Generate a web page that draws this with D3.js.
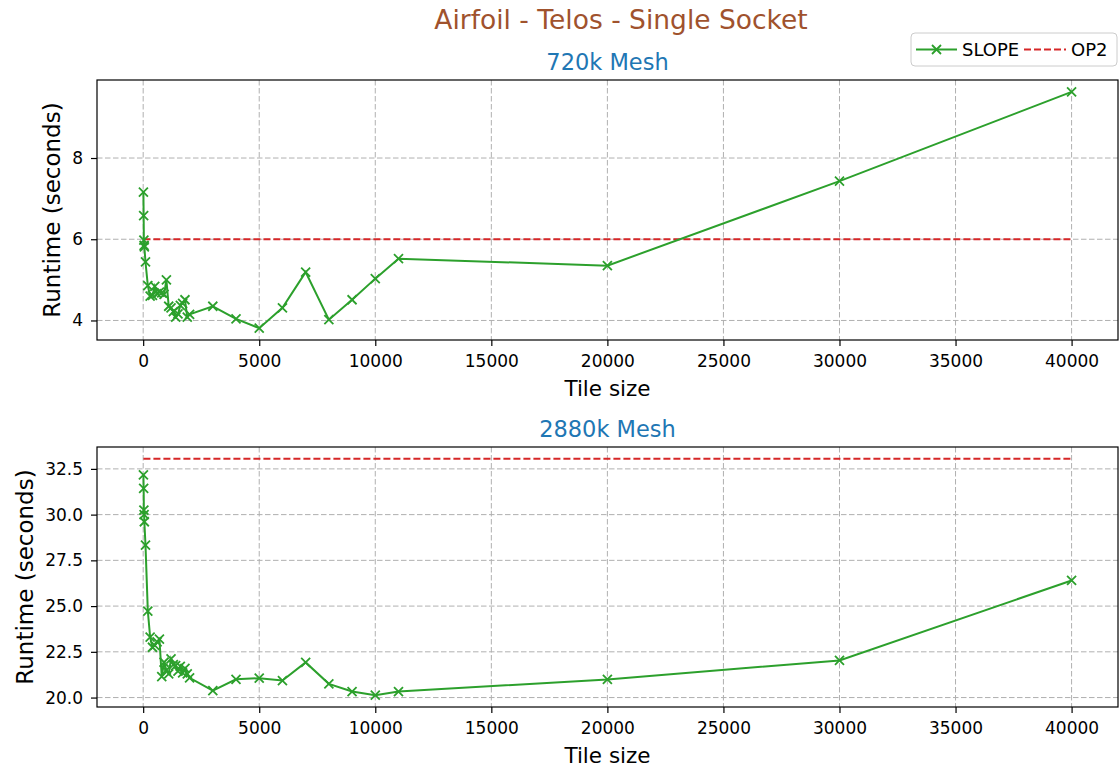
<!DOCTYPE html>
<html>
<head>
<meta charset="utf-8">
<script src="https://cdn.jsdelivr.net/npm/d3@7"></script>
<style>
body { margin: 0; background: #fff; }
svg { font-family: "DejaVu Sans", sans-serif; }
</style>
</head>
<body>
<div id="chart"></div>
<script>
// 1: DATA
const tileSizes = [10, 20, 30, 40, 50, 100, 200, 300, 400, 500, 600, 700, 800, 900, 1000,
    1100, 1200, 1300, 1400, 1500, 1600, 1700, 1800, 1900, 2000, 3000, 4000, 5000, 6000,
    7000, 8000, 9000, 10000, 11000, 20000, 30000, 40000];

const slope720k = [7.16, 6.58, 5.98, 5.85, 5.81, 5.44, 4.86, 4.60, 4.62, 4.84, 4.66, 4.70,
    4.68, 4.64, 5.00, 4.35, 4.31, 4.22, 4.08, 4.16, 4.37, 4.42, 4.51, 4.08, 4.15, 4.35,
    4.04, 3.81, 4.31, 5.19, 4.02, 4.51, 5.03, 5.52, 5.35, 7.43, 9.63];

const slope2880k = [32.17, 31.44, 30.25, 30.00, 29.61, 28.33, 24.73, 23.30, 22.75, 22.85,
    23.05, 23.20, 21.15, 21.93, 21.50, 21.30, 22.12, 21.80, 21.75, 21.45, 21.70, 21.35,
    21.60, 21.30, 21.08, 20.38, 21.00, 21.06, 20.93, 21.92, 20.75, 20.33, 20.13, 20.33,
    20.99, 22.03, 26.40];

const op2_720k = 6.0;
const op2_2880k = 33.05;

const xTicks = [0, 5000, 10000, 15000, 20000, 25000, 30000, 35000, 40000];
const yTicks720k = [4, 6, 8];
const yTicks2880k = [20, 22.5, 25, 27.5, 30, 32.5];

const green = "#2ca02c";
const red = "#d62728";

// 2: SVG
const W = 1120, H = 771;
const svg = d3.select("#chart").append("svg")
    .attr("width", W)
    .attr("height", H);

svg.append("text")
    .attr("x", 621)
    .attr("y", 29)
    .attr("text-anchor", "middle")
    .attr("font-size", "26.5px")
    .attr("fill", "#a0522d")
    .text("Airfoil - Telos - Single Socket");

const left = 97, right = 1118, panelH = 260;

// pad a domain like matplotlib's 5% margins
function padded(lo, hi) {
    const m = (hi - lo) * 0.05;
    return [lo - m, hi + m];
}

function drawPanel(top, values, op2, title, yTicks, yFmt) {
    const g = svg.append("g").attr("transform", `translate(0,${top})`);
    const w = right - left;

    const xScale = d3.scaleLinear()
        .domain(padded(d3.min(tileSizes), d3.max(tileSizes)))
        .range([left, right]);
    const yExt = d3.extent(values.concat([op2]));
    const yScale = d3.scaleLinear()
        .domain(padded(yExt[0], yExt[1]))
        .range([panelH, 0]);

    // grid
    g.append("g").selectAll("line").data(xTicks).join("line")
        .attr("x1", d => xScale(d)).attr("x2", d => xScale(d))
        .attr("y1", 0).attr("y2", panelH)
        .attr("stroke", "#b0b0b0").attr("stroke-width", 1)
        .attr("stroke-dasharray", "5.5,2.5");
    g.append("g").selectAll("line").data(yTicks).join("line")
        .attr("x1", left).attr("x2", right)
        .attr("y1", d => yScale(d)).attr("y2", d => yScale(d))
        .attr("stroke", "#b0b0b0").attr("stroke-width", 1)
        .attr("stroke-dasharray", "5.5,2.5");

    // OP2 baseline
    g.append("line")
        .attr("x1", xScale(d3.min(tileSizes))).attr("x2", xScale(d3.max(tileSizes)))
        .attr("y1", yScale(op2)).attr("y2", yScale(op2))
        .attr("stroke", red).attr("stroke-width", 2)
        .attr("stroke-dasharray", "7,3");

    // SLOPE line
    const pts = tileSizes.map((t, i) => ({ t, v: values[i] }));
    const line = d3.line().x(d => xScale(d.t)).y(d => yScale(d.v));
    g.append("path")
        .datum(pts)
        .attr("fill", "none")
        .attr("stroke", green)
        .attr("stroke-width", 2)
        .attr("d", line);

    const s = 4.5;
    g.append("g").selectAll("path").data(pts).join("path")
        .attr("d", d => {
            const x = xScale(d.t), y = yScale(d.v);
            return `M${x - s},${y - s}L${x + s},${y + s}M${x - s},${y + s}L${x + s},${y - s}`;
        })
        .attr("stroke", green)
        .attr("stroke-width", 1.8)
        .attr("fill", "none");

    // axes
    const xAxis = g.append("g")
        .attr("transform", `translate(0,${panelH})`)
        .call(d3.axisBottom(xScale).tickValues(xTicks).tickSize(6).tickPadding(9).tickFormat(d3.format("d")));
    const yAxis = g.append("g")
        .attr("transform", `translate(${left},0)`)
        .call(d3.axisLeft(yScale).tickValues(yTicks).tickSize(6).tickPadding(8).tickFormat(yFmt));
    [xAxis, yAxis].forEach(a => {
        a.select(".domain").remove();
        a.selectAll("text").attr("font-size", "17px").attr("fill", "#000")
            .attr("font-family", "DejaVu Sans, sans-serif");
        a.selectAll("line").attr("stroke", "#000").attr("stroke-width", 1.2);
    });

    // frame
    g.append("rect")
        .attr("x", left).attr("y", 0)
        .attr("width", w).attr("height", panelH)
        .attr("fill", "none").attr("stroke", "#000").attr("stroke-width", 1.2);

    // titles and labels
    g.append("text")
        .attr("x", (left + right) / 2).attr("y", -10)
        .attr("text-anchor", "middle")
        .attr("font-size", "22.5px").attr("fill", "#1f77b4")
        .text(title);
    g.append("text")
        .attr("x", (left + right) / 2).attr("y", panelH + 56)
        .attr("text-anchor", "middle")
        .attr("font-size", "21.5px")
        .text("Tile size");

    // y label sits left of the widest tick label
    let minX = left;
    yAxis.selectAll("text").each(function () {
        const b = this.getBBox();
        minX = Math.min(minX, left + b.x);
    });
    g.append("text")
        .attr("transform", `translate(${minX - 12},${panelH / 2}) rotate(-90)`)
        .attr("text-anchor", "middle")
        .attr("font-size", "23px")
        .text("Runtime (seconds)");
}

drawPanel(80, slope720k, op2_720k, "720k Mesh", yTicks720k, d3.format("d"));
drawPanel(447, slope2880k, op2_2880k, "2880k Mesh", yTicks2880k, d3.format(".1f"));

// legend
const legend = svg.append("g").attr("transform", "translate(911,33)");
legend.append("rect")
    .attr("width", 206).attr("height", 33).attr("rx", 4)
    .attr("fill", "#fff").attr("fill-opacity", 0.8)
    .attr("stroke", "#cccccc").attr("stroke-width", 1);
legend.append("line")
    .attr("x1", 5).attr("x2", 46).attr("y1", 16.5).attr("y2", 16.5)
    .attr("stroke", green).attr("stroke-width", 2);
legend.append("path")
    .attr("d", "M21,12L30,21M21,21L30,12")
    .attr("stroke", green).attr("stroke-width", 1.8);
legend.append("text")
    .attr("x", 51).attr("y", 23)
    .attr("font-size", "18px")
    .text("SLOPE");
legend.append("line")
    .attr("x1", 113).attr("x2", 155).attr("y1", 16.5).attr("y2", 16.5)
    .attr("stroke", red).attr("stroke-width", 2)
    .attr("stroke-dasharray", "7,3");
legend.append("text")
    .attr("x", 160).attr("y", 23)
    .attr("font-size", "18px")
    .text("OP2");
</script>
</body>
</html>
